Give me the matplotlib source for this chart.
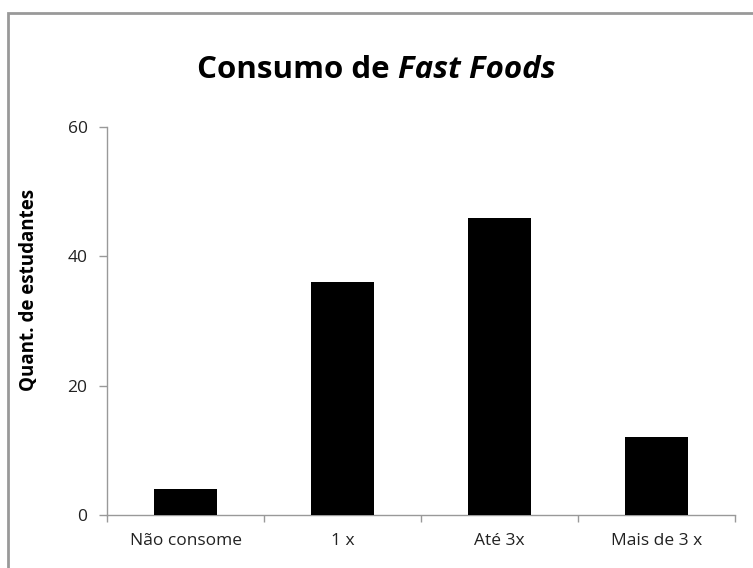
import matplotlib
matplotlib.use("Agg")
import matplotlib.pyplot as plt
from matplotlib.patches import Rectangle

categories = ["Não consome", "1 x", "Até 3x", "Mais de 3 x"]
values = [4, 36, 46, 12]
yticks = [0, 20, 40, 60]
title_plain = "Consumo de "
title_italic = "Fast Foods"

plt.rcParams['font.family'] = ['Open Sans', 'DejaVu Sans']

fig = plt.figure(figsize=(7.53, 5.68), dpi=100)
ax = fig.add_axes([107/753, 1-515/568, (735-107)/753, (515-127)/568])

x = list(range(len(categories)))
ax.bar(x, values, width=0.4, color="black", zorder=3)
ax.set_xlim(-0.5, len(categories) - 0.5)
ax.set_ylim(0, 60)
ax.set_yticks(yticks)
ax.set_xticks(x)
ax.set_xticklabels(categories, fontsize=12.5, color="#222222")
ax.set_xticks([i - 0.5 for i in range(len(categories) + 1)], minor=True)
ax.tick_params(axis="x", which="major", length=0, pad=13)
ax.tick_params(axis="x", which="minor", length=5, color="#999999", width=1)
ax.tick_params(axis="y", length=6, color="#999999", width=1, labelsize=12.5,
               labelcolor="#222222", pad=8)
for s in ["top", "right"]:
    ax.spines[s].set_visible(False)
for s in ["left", "bottom"]:
    ax.spines[s].set_color("#999999")
    ax.spines[s].set_linewidth(1)

ax.set_ylabel("Quant. de estudantes", fontsize=13.5, fontweight="bold")
ax.yaxis.set_label_coords(-0.108, (515 - 290) / 388)

# Title: plain bold + bold italic, centred together
fig.canvas.draw()
renderer = fig.canvas.get_renderer()
t1 = fig.text(0, 0.877, title_plain, ha="left", va="center", fontsize=22.5, fontweight="bold")
t2 = fig.text(0, 0.877, title_italic, ha="left", va="center", fontsize=22.5,
              fontweight="bold", fontstyle="italic")
w1 = t1.get_window_extent(renderer).width / fig.bbox.width
w2 = t2.get_window_extent(renderer).width / fig.bbox.width
x0 = 0.500 - (w1 + w2) / 2
t1.set_x(x0)
t2.set_x(x0 + w1)

fig.patches.append(Rectangle((8/753, -0.1), 1.2, 1 - 13/568 + 0.1, transform=fig.transFigure,
                             fill=False, edgecolor="#999999", linewidth=2))

fig.savefig("out.png", dpi=100)
